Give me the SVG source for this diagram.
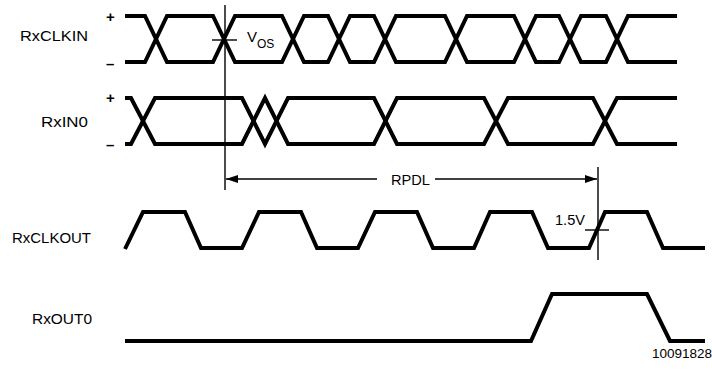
<svg xmlns="http://www.w3.org/2000/svg" width="712" height="371" viewBox="0 0 712 371">
<style>
.sig{fill:none;stroke:#000;stroke-width:4;stroke-linejoin:miter;stroke-linecap:butt}
.thin{fill:none;stroke:#000;stroke-width:1.4}
.lbl{font-family:"Liberation Sans",Arial,sans-serif;font-size:15px;fill:#000}
.pm{font-family:"Liberation Sans",Arial,sans-serif;font-size:15px;font-weight:bold;fill:#000}
</style>
<defs>
<marker id="ah" viewBox="0 0 12 8" refX="12" refY="4" markerWidth="12" markerHeight="8" markerUnits="userSpaceOnUse" orient="auto-start-reverse">
<path d="M0,0 L12,4 L0,8 Z" fill="#000"/>
</marker>
</defs>
<rect width="712" height="371" fill="#fff"/>
<g id="labels">
<text class="lbl" x="20" y="41" textLength="68" lengthAdjust="spacingAndGlyphs">RxCLKIN</text>
<text class="lbl" x="41" y="127" textLength="47" lengthAdjust="spacingAndGlyphs">RxIN0</text>
<text class="lbl" x="12" y="243" textLength="79" lengthAdjust="spacingAndGlyphs">RxCLKOUT</text>
<text class="lbl" x="32" y="324" textLength="60" lengthAdjust="spacingAndGlyphs">RxOUT0</text>
<text class="pm" x="106" y="22">+</text>
<text class="pm" x="106" y="69">–</text>
<text class="pm" x="106" y="103">+</text>
<text class="pm" x="106" y="150">–</text>
</g>
<g id="RxCLKIN">
<polyline class="sig" points="125,16 145,16 167,62 213,62 235,16 282,16 304,62 328,62 350,16 374,16 396,62 445,62 467,16 514,16 536,62 559,62 581,16 606,16 628,62 677,62"/>
<polyline class="sig" points="125,62 145,62 167,16 213,16 235,62 282,62 304,16 328,16 350,62 374,62 396,16 445,16 467,62 514,62 536,16 559,16 581,62 606,62 628,16 677,16"/>
</g>
<g id="RxIN0">
<polyline class="sig" points="125,98 131,98 155,144 242,144 265,98 288,144 374,144 397,98 484,98 508,144 593,144 617,98 677,98"/>
<polyline class="sig" points="125,144 131,144 155,98 242,98 265,144 288,98 374,98 397,144 484,144 508,98 593,98 617,144 677,144"/>
</g>
<g id="RxCLKOUT">
<polyline class="sig" points="125,249 143,212 185,212 201,248 242,248 259,212 301,212 317,248 358,248 375,212 417,212 433,248 474,248 490,212 532,212 548,248 589,248 605,212 647,212 663,248 705,248"/>
</g>
<g id="RxOUT0">
<polyline class="sig" points="125,341 531,341 552,294 647,294 670,341 705,341"/>
</g>
<g id="connectors">
<line class="thin" x1="225" y1="5" x2="225" y2="190"/>
<line class="thin" x1="212" y1="40" x2="237" y2="40"/>
<line class="thin" x1="598" y1="167" x2="598" y2="260"/>
<line class="thin" x1="585" y1="230" x2="609" y2="230"/>
<line class="thin" x1="377" y1="179" x2="226" y2="179" marker-end="url(#ah)"/>
<line class="thin" x1="435" y1="179" x2="597" y2="179" marker-end="url(#ah)"/>
</g>
<g id="annotations">
<text class="lbl" x="247" y="42" font-size="14">V<tspan font-size="12" dy="6">OS</tspan></text>
<text class="lbl" x="391" y="185" textLength="39" lengthAdjust="spacingAndGlyphs">RPDL</text>
<text class="lbl" x="555" y="225" font-size="13" textLength="30" lengthAdjust="spacingAndGlyphs">1.5V</text>
<text x="712" y="358" text-anchor="end" font-family="Liberation Sans, Arial, sans-serif" font-size="13.5" fill="#000">10091828</text>
</g>
</svg>
